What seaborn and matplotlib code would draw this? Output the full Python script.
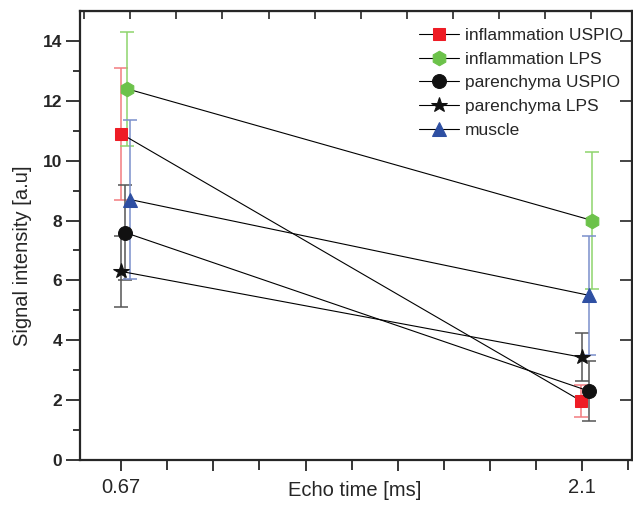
import numpy as np
import matplotlib
matplotlib.use('Agg')
import matplotlib.pyplot as plt
import seaborn as sns

# Data
echo_labels = ['0.67', '', '', '', '', '2.1']
series_names = ['inflammation USPIO', 'inflammation LPS', 'parenchyma USPIO',
                'parenchyma LPS', 'muscle']
infl_uspio = [10.9, 1.97]
infl_lps = [12.4, 8.0]
par_uspio = [7.6, 2.3]
par_lps = [6.3, 3.43]
muscle = [8.7, 5.5]
infl_uspio_err = [2.2, 0.55]
infl_lps_err = [1.9, 2.3]
par_uspio_err = [1.6, 1.0]
par_lps_err = [1.2, 0.8]
muscle_err = [2.65, 2.0]

means = [infl_uspio, infl_lps, par_uspio, par_lps, muscle]
errs = [infl_uspio_err, infl_lps_err, par_uspio_err, par_lps_err, muscle_err]

# style
markers = ['s', 'h', 'o', '*', '^']
colors = ['#ee1c25', '#6cc24a', '#111111', '#111111', '#2e4fa2']
err_colors = ['#f27c80', '#8ed46c', '#555555', '#555555', '#7b8fcb']
msizes = [9, 10.5, 10, 11.5, 10.5]
# small horizontal shifts so the points don't overlap (axis units)
shifts = [[0.0, -0.01], [0.065, 0.11], [0.043, 0.075], [0.0, 0.0], [0.1, 0.075]]
cat_pos = [0, 5]

sns.set_style('ticks')
plt.rcParams['font.family'] = ['Liberation Sans', 'DejaVu Sans']

fig = plt.figure(figsize=(6.33, 5.08), dpi=100)
ax = fig.add_axes([80 / 633, 1 - 460 / 508, 552 / 633, 449 / 508])

for name, m, e, mk, c, ec, ms, sh in zip(series_names, means, errs, markers,
                                         colors, err_colors, msizes, shifts):
    xs = [p + s for p, s in zip(cat_pos, sh)]
    ax.errorbar(xs, m, yerr=e, fmt='none', ecolor=ec, elinewidth=1.1,
                capsize=5, capthick=1.1, zorder=2)
    sns.lineplot(x=xs, y=m, ax=ax, color='black', linewidth=0.8, marker=mk,
                 markersize=ms, markerfacecolor=c, markeredgecolor=c,
                 label=name, zorder=3)

ax.set_xlim(-0.445, 5.54)
ax.set_ylim(0, 15)
ax.set_xticks(np.arange(0, 5.6, 1))
ax.set_xticklabels(echo_labels, fontsize=14.5)
ax.set_xticks(np.arange(0.5, 5.6, 1), minor=True)
ax.set_yticks(np.arange(0, 15, 2))
ax.set_yticks(np.arange(1, 15, 2), minor=True)
ax.tick_params(axis='y', which='major', length=10, width=1.3, labelsize=12.5, pad=3)
ax.tick_params(axis='y', which='minor', length=5, width=1.3)
ax.tick_params(axis='x', which='major', length=8, width=1.3, pad=5)
ax.tick_params(axis='x', which='minor', length=7, width=1.3)
for lab in ax.get_yticklabels():
    lab.set_fontweight('bold')
for sp in ax.spines.values():
    sp.set_linewidth(1.6)

top = ax.secondary_xaxis('top')
top.set_xticks(np.arange(-0.4, 5.6, 0.5))
top.tick_params(direction='in', length=6, width=1.2, labeltop=False)
right = ax.secondary_yaxis('right')
right.set_yticks(np.arange(2, 15, 2))
right.tick_params(direction='in', length=9, width=1.2, labelright=False)

ax.set_xlabel('Echo time [ms]', fontsize=14.5)
ax.xaxis.set_label_coords(0.497, -0.047)
ax.set_ylabel('Signal intensity [a.u]', fontsize=14.5)
ax.yaxis.set_label_coords(-0.087, 0.455)

ax.legend(loc='upper right', bbox_to_anchor=(1.005, 0.99), frameon=False,
          fontsize=12.5, handlelength=2.3, handletextpad=0.3, labelspacing=0.5,
          borderaxespad=0.3)

fig.savefig('out.png', dpi=100)
